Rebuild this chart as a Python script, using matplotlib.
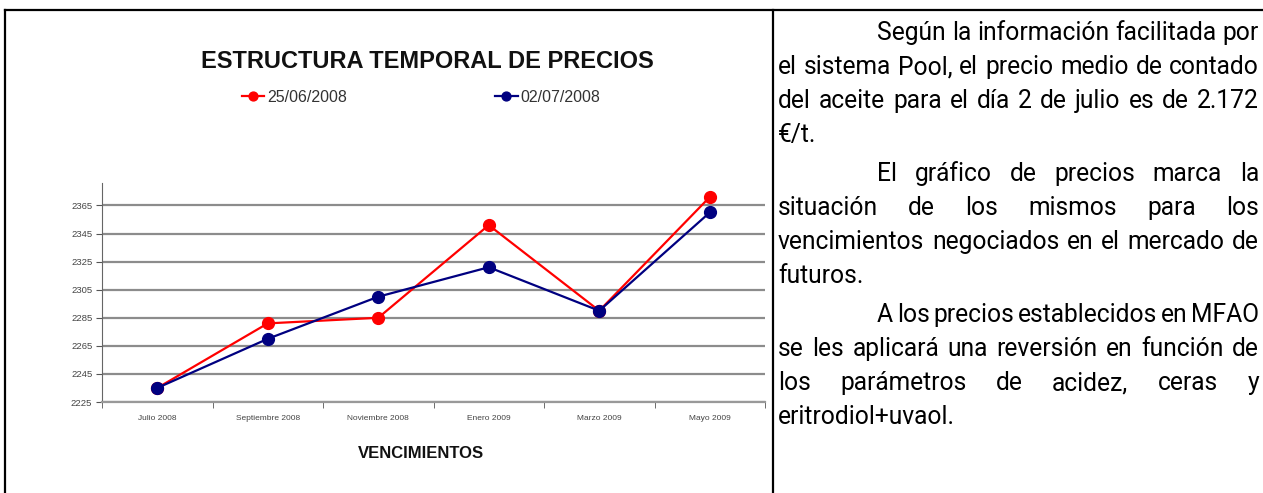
import matplotlib
matplotlib.use("Agg")
import matplotlib.pyplot as plt
from matplotlib.lines import Line2D

# datos del grafico
vencimientos = ["Julio 2008", "Septiembre 2008", "Noviembre 2008",
                "Enero 2009", "Marzo 2009", "Mayo 2009"]
precios_2506 = [2235, 2281, 2285, 2351, 2290, 2371]
precios_0207 = [2235, 2270, 2300, 2321, 2290, 2360]
y_ticks = [2225, 2245, 2265, 2285, 2305, 2325, 2345, 2365]

# texto de la columna derecha (lineas como en el original)
parrafos = [
    ["Según la información facilitada por",
     "el sistema Pool, el precio medio de contado",
     "del aceite para el día 2 de julio es de 2.172",
     "€/t."],
    ["El gráfico de precios marca la",
     "situación de los mismos para los",
     "vencimientos negociados en el mercado de",
     "futuros."],
    ["A los precios establecidos en MFAO",
     "se les aplicará una reversión en función de",
     "los parámetros de acidez, ceras y",
     "eritrodiol+uvaol."],
]

W, H = 1263, 493
fig = plt.figure(figsize=(W / 100, H / 100), dpi=100)

def px(x, y):
    return x / W, 1 - y / H

# marco de la tabla
for (x0, y0), (x1, y1) in [((5, 10), (1263, 10)), ((5, 10), (5, 493)), ((773, 10), (773, 493))]:
    a, b = px(x0, y0)
    c, d = px(x1, y1)
    fig.add_artist(Line2D([a, c], [b, d], color="black", lw=1.6, transform=fig.transFigure))

# grafico
ax = fig.add_axes([102 / W, 91 / H, 663 / W, 219 / H])
x = list(range(len(vencimientos)))
ax.plot(x, precios_2506, color="#ff0000", lw=1.6, marker="o", ms=8.5, label="25/06/2008", zorder=3)
ax.plot(x, precios_0207, color="#000080", lw=1.6, marker="o", ms=8.5, label="02/07/2008", zorder=4)

ax.set_xlim(-0.5, len(vencimientos) - 0.5)
ax.set_ylim(2225, 2381)
ax.set_yticks(y_ticks)
ax.set_yticklabels([str(v) for v in y_ticks], family="Liberation Sans")
ax.set_xticks(x)
ax.set_xticklabels(vencimientos, family="Liberation Sans")
ax.set_xticks([i - 0.5 for i in range(len(vencimientos) + 1)], minor=True)
ax.tick_params(axis="x", which="major", length=0, labelsize=6, labelcolor="#444444", pad=9)
ax.tick_params(axis="x", which="minor", length=4, color="#555555", direction="out")
ax.tick_params(axis="y", length=4, color="#555555", labelsize=6.8, labelcolor="#444444", pad=3)
ax.yaxis.grid(True, color="#8c8c8c", lw=1.6)
ax.set_axisbelow(True)
for s in ["top", "right"]:
    ax.spines[s].set_visible(False)
ax.spines["left"].set_color("#666666")
ax.spines["bottom"].set_color("#999999")
ax.spines["bottom"].set_linewidth(1.6)

ax.legend(loc="center", bbox_to_anchor=(px(421, 97)), bbox_transform=fig.transFigure,
          ncol=2, frameon=False, prop=dict(family="Liberation Sans", size=11.5),
          markerscale=0.75, handlelength=1.4, handletextpad=0.15, columnspacing=9.3,
          labelcolor="#333333")

fig.text(*px(427, 61), "ESTRUCTURA TEMPORAL DE PRECIOS", ha="center", va="center",
         fontsize=17, fontweight="bold", family="Liberation Sans", color="#111111")
fig.text(*px(421, 453), "VENCIMIENTOS", ha="center", va="center",
         fontsize=12, fontweight="bold", family="Liberation Sans", color="#111111")

# texto justificado
renderer = fig.canvas.get_renderer()
izq, der, sangria = 778, 1259, 877
familia = "Roboto"

# tamano de letra para que la linea mas larga llene la columna
prueba = fig.text(0, 0, "se les aplicará una reversión en función de", family=familia, fontsize=10)
tam = 10 * (der - izq) / prueba.get_window_extent(renderer).width * 0.97
prueba.remove()

y = 40
for parrafo in parrafos:
    for i, linea in enumerate(parrafo):
        x0 = sangria if i == 0 else izq
        palabras = linea.split(" ")
        textos = [fig.text(0, 0, p, va="baseline", ha="left", family=familia,
                           fontsize=tam, color="black") for p in palabras]
        anchos = [t.get_window_extent(renderer).width for t in textos]
        if i == len(parrafo) - 1 or len(palabras) == 1:
            hueco = renderer.points_to_pixels(tam) * 0.25
        else:
            hueco = (der - x0 - sum(anchos)) / (len(palabras) - 1)
        xx = x0
        for t, w in zip(textos, anchos):
            t.set_position(px(xx, y))
            xx += w + hueco
        y += 34
    y += 5

fig.savefig("out.png", dpi=100)
